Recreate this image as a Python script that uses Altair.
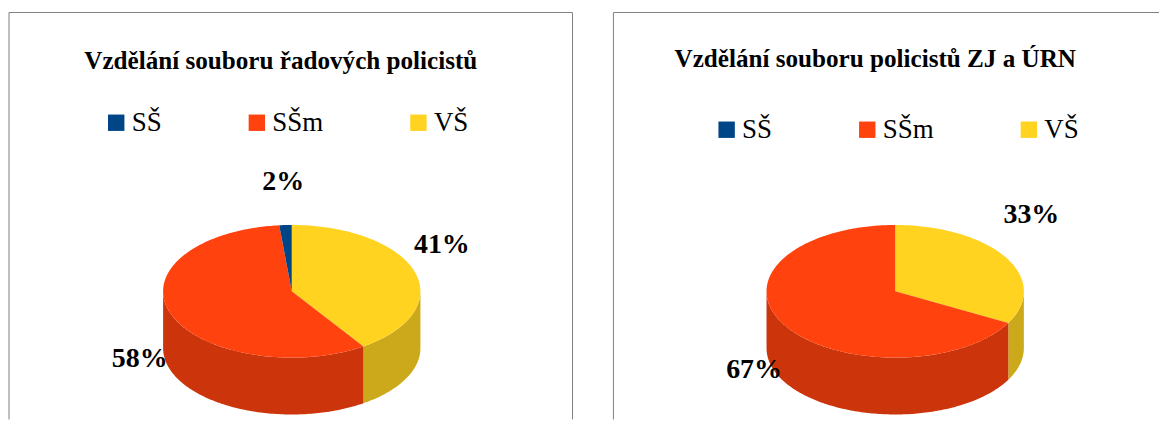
import math
import altair as alt
import pandas as pd

CATEGORIES = ["SŠ", "SŠm", "VŠ"]
COLORS = ["#004586", "#ff420e", "#ffd320"]
SIDE_COLORS = ["#00386b", "#cc350b", "#cca91a"]

LEFT_SHARES = [1.55, 57.85, 40.6]
RIGHT_SHARES = [0.0, 67.1, 32.9]
LEFT_LABELS = ["2%", "58%", "41%"]
RIGHT_LABELS = ["", "67%", "33%"]
LEFT_TITLE = "Vzdělání souboru řadových policistů"
RIGHT_TITLE = "Vzdělání souboru policistů ZJ a ÚRN"

FONT = "Liberation Serif"
FRAME = "#808080"
PANEL_H = 408
RX, RY, DEPTH = 129, 66.5, 57
CY = 279.5
DRAW_ORDER = [2, 1, 0]  # clockwise from 12 o'clock


def point(cx, a, dy=0):
    r = math.radians(a)
    return cx + RX * math.sin(r), CY - RY * math.cos(r) + dy


def arc(cx, a0, a1, dy=0):
    n = max(2, int(abs(a1 - a0)) + 1)
    return [point(cx, a0 + (a1 - a0) * i / n, dy) for i in range(n + 1)]


def geometry(shares, cx):
    tops, sides = [], []
    a = 0.0
    for k in DRAW_ORDER:
        a1 = a + shares[k] * 360 / sum(shares)
        if shares[k] > 0:
            for i, (x, y) in enumerate([(cx, CY)] + arc(cx, a, a1)):
                tops.append(dict(series=CATEGORIES[k], x=x, y=y, i=i))
            lo, hi = max(a, 90), min(a1, 270)
            if hi > lo:
                pts = arc(cx, lo, hi) + arc(cx, hi, lo, DEPTH)
                for i, (x, y) in enumerate(pts):
                    sides.append(dict(series=CATEGORIES[k], x=x, y=y, i=i))
        a = a1
    return pd.DataFrame(tops), pd.DataFrame(sides)


def panel(shares, labels, label_pos, title, title_x, title_y, cx, width, legend_x, legend_y, closed):
    tops, sides = geometry(shares, cx)
    X = alt.X("x:Q", scale=alt.Scale(domain=[0, width], nice=False, zero=False), axis=None)
    Y = alt.Y("y:Q", scale=alt.Scale(domain=[PANEL_H, 0], nice=False, zero=False), axis=None)
    side = alt.Chart(sides).mark_line(strokeWidth=0, fill="black").encode(
        x=X, y=Y, order="i:Q", detail="series:N",
        fill=alt.Fill("series:N", scale=alt.Scale(domain=CATEGORIES, range=SIDE_COLORS), legend=None),
    )
    top = alt.Chart(tops).mark_line(strokeWidth=0, fill="black").encode(
        x=X, y=Y, order="i:Q",
        fill=alt.Fill(
            "series:N",
            scale=alt.Scale(domain=CATEGORIES, range=COLORS),
            legend=alt.Legend(
                title=None, orient="none", legendX=legend_x, legendY=legend_y,
                direction="horizontal", columns=3, columnPadding=81, gridAlign="none",
                symbolType="square", symbolSize=270, symbolStrokeWidth=0, symbolOffset=0,
                labelFont=FONT, labelFontSize=27, labelColor="black", labelOffset=2,
                labelLimit=0,
            ),
        ),
    )
    lab = pd.DataFrame(
        [dict(t=t, x=p[0], y=p[1]) for t, p in zip(labels, label_pos) if t]
    )
    text = alt.Chart(lab).mark_text(
        font=FONT, fontSize=28, fontWeight="bold", color="black", align="center", baseline="middle"
    ).encode(x=X, y=Y, text="t:N")
    ttl = alt.Chart(pd.DataFrame([dict(t=title, x=title_x, y=title_y)])).mark_text(
        font=FONT, fontSize=25.2, fontWeight="bold", color="black", align="center", baseline="middle"
    ).encode(x=X, y=Y, text="t:N")
    base = alt.Chart(pd.DataFrame([{"n": 0}])).mark_rule(color=FRAME, strokeWidth=1)
    frame = [
        base.encode(x=alt.value(0), x2=alt.value(width), y=alt.value(0)),
        base.encode(x=alt.value(0), y=alt.value(0), y2=alt.value(PANEL_H)),
    ]
    if closed:
        frame.append(base.encode(x=alt.value(width), y=alt.value(0), y2=alt.value(PANEL_H)))
    return (
        alt.layer(*frame, side, top, text, ttl)
        .resolve_scale(fill="independent")
        .properties(width=width, height=PANEL_H)
    )


left = panel(
    LEFT_SHARES, LEFT_LABELS, [(275, 170), (131, 347), (434, 233)],
    LEFT_TITLE, 272.5, 49, 283.5, 565, 94, 97, True,
)
right = panel(
    RIGHT_SHARES, RIGHT_LABELS, [(0, 0), (141, 358), (419, 203)],
    RIGHT_TITLE, 262.5, 47, 282.5, 547, 100, 104, False,
)

chart = (
    alt.hconcat(left, right, spacing=39)
    .resolve_scale(fill="independent")
    .configure_view(stroke=None)
    .properties(padding={"left": 0, "top": 3, "right": 0, "bottom": 0}, background="white")
)
chart.save("out.html", embed_options={"renderer": "svg", "actions": False})
